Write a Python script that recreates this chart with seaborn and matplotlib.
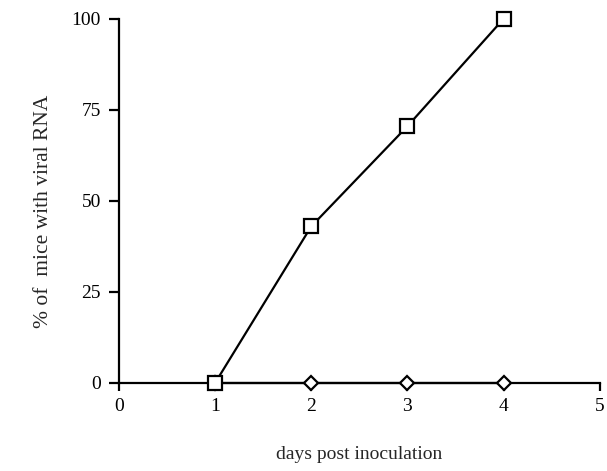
import numpy as np
import pandas as pd
import seaborn as sns
import matplotlib.pyplot as plt

days = [1, 2, 3, 4]
infected = [0, 43, 70.5, 100]
control = [0, 0, 0, 0]

sns.set_style("ticks")
plt.rcParams['font.family'] = ['Liberation Serif', 'DejaVu Serif']

fig = plt.figure(figsize = (6.07, 4.71), dpi = 100)
ax = fig.add_axes([0.196, 0.187, 0.792, 0.773])

sns.lineplot(x = days, y = control, ax = ax, color = "black", lw = 1.6,
    marker = "D", markersize = 7, markerfacecolor = "white",
    markeredgecolor = "black", markeredgewidth = 1.6, clip_on = False, zorder = 3)
sns.lineplot(x = days, y = infected, ax = ax, color = "black", lw = 1.6,
    marker = "s", markersize = 10, markerfacecolor = "white",
    markeredgecolor = "black", markeredgewidth = 1.6, clip_on = False, zorder = 4)

ax.set_xlim(0, 5)
ax.set_ylim(0, 100)
ax.set_xticks([0, 1, 2, 3, 4, 5])
ax.set_yticks([0, 25, 50, 75, 100])
ax.tick_params(axis = "both", direction = "out", width = 1.6, length = 7,
    labelsize = 14, colors = "black")
ax.tick_params(axis = "y", pad = 6)
ax.tick_params(axis = "x", length = 6, pad = 5)
sns.despine(ax = ax)
for s in ["left", "bottom"]:
    ax.spines[s].set_linewidth(1.6)
    ax.spines[s].set_color("black")

ax.set_xlabel("days post inoculation", fontsize = 14, labelpad = 22)
ax.set_ylabel("% of  mice with viral RNA", fontsize = 15.5, labelpad = 13)
ax.yaxis.label.set_y(0.47)

fig.savefig("out.png", dpi = 100)
